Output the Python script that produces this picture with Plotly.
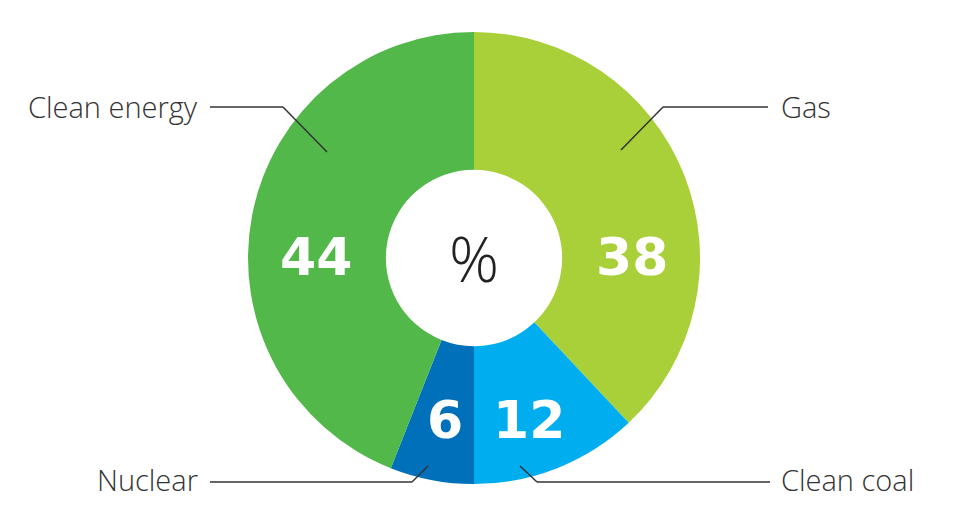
import plotly.graph_objects as go

labels = ["Gas", "Clean coal", "Nuclear", "Clean energy"]
values = [38, 12, 6, 44]
colors = ["#A9D038", "#00AEEF", "#0070BA", "#52B84A"]

W, H = 971, 516

def px(x):
    return x / W

def py(y):
    return 1 - y / H

fig = go.Figure()
fig.add_trace(go.Pie(
    labels=labels, values=values, sort=False, direction="clockwise", rotation=0,
    hole=0.39, marker=dict(colors=colors, line=dict(width=0)),
    textinfo="none", hoverinfo="label+value", showlegend=False,
    domain=dict(x=[px(248), px(700)], y=[py(484), py(32)]),
))

# value labels inside slices (text from data)
num_pos = {"Gas": (632, 257), "Clean coal": (529, 420), "Nuclear": (445, 420), "Clean energy": (316, 257)}
annotations = []
for lab, v in zip(labels, values):
    x, y = num_pos[lab]
    annotations.append(dict(x=px(x), y=py(y), xref="paper", yref="paper", text=str(v),
                            showarrow=False, font=dict(family="DejaVu Sans", size=52, color="white", weight=700),
                            xanchor="center", yanchor="middle"))

annotations.append(dict(x=px(474), y=py(258), xref="paper", yref="paper", text="%", showarrow=False,
                        font=dict(family="Open Sans", size=62, color="#222222", weight=300),
                        xanchor="center", yanchor="middle"))

# category labels
cat_pos = {"Clean energy": (200, 106, "right"), "Gas": (779, 106, "left"),
           "Nuclear": (200, 479, "right"), "Clean coal": (779, 479, "left")}
for lab in labels:
    x, y, anc = cat_pos[lab]
    annotations.append(dict(x=px(x), y=py(y), xref="paper", yref="paper", text=lab, showarrow=False,
                            font=dict(family="Open Sans", size=29, color="#333333", weight=300),
                            xanchor=anc, yanchor="middle"))

# leader lines
leaders = [
    [(210, 107), (283, 107), (327, 152)],
    [(768, 107), (663, 107), (621, 150)],
    [(210, 482), (412, 482), (428, 466)],
    [(770, 482), (537, 482), (520, 466)],
]
shapes = []
for pts in leaders:
    for (x0, y0), (x1, y1) in zip(pts[:-1], pts[1:]):
        shapes.append(dict(type="line", xref="paper", yref="paper",
                           x0=px(x0), y0=py(y0), x1=px(x1), y1=py(y1),
                           line=dict(color="#333333", width=1.5)))

fig.update_layout(width=W, height=H, margin=dict(l=0, r=0, t=0, b=0),
                  paper_bgcolor="white", plot_bgcolor="white",
                  annotations=annotations, shapes=shapes)
fig.write_html("out.html", config={"displayModeBar": False},
               post_script="document.body.style.margin='0';document.body.style.overflow='hidden';")
